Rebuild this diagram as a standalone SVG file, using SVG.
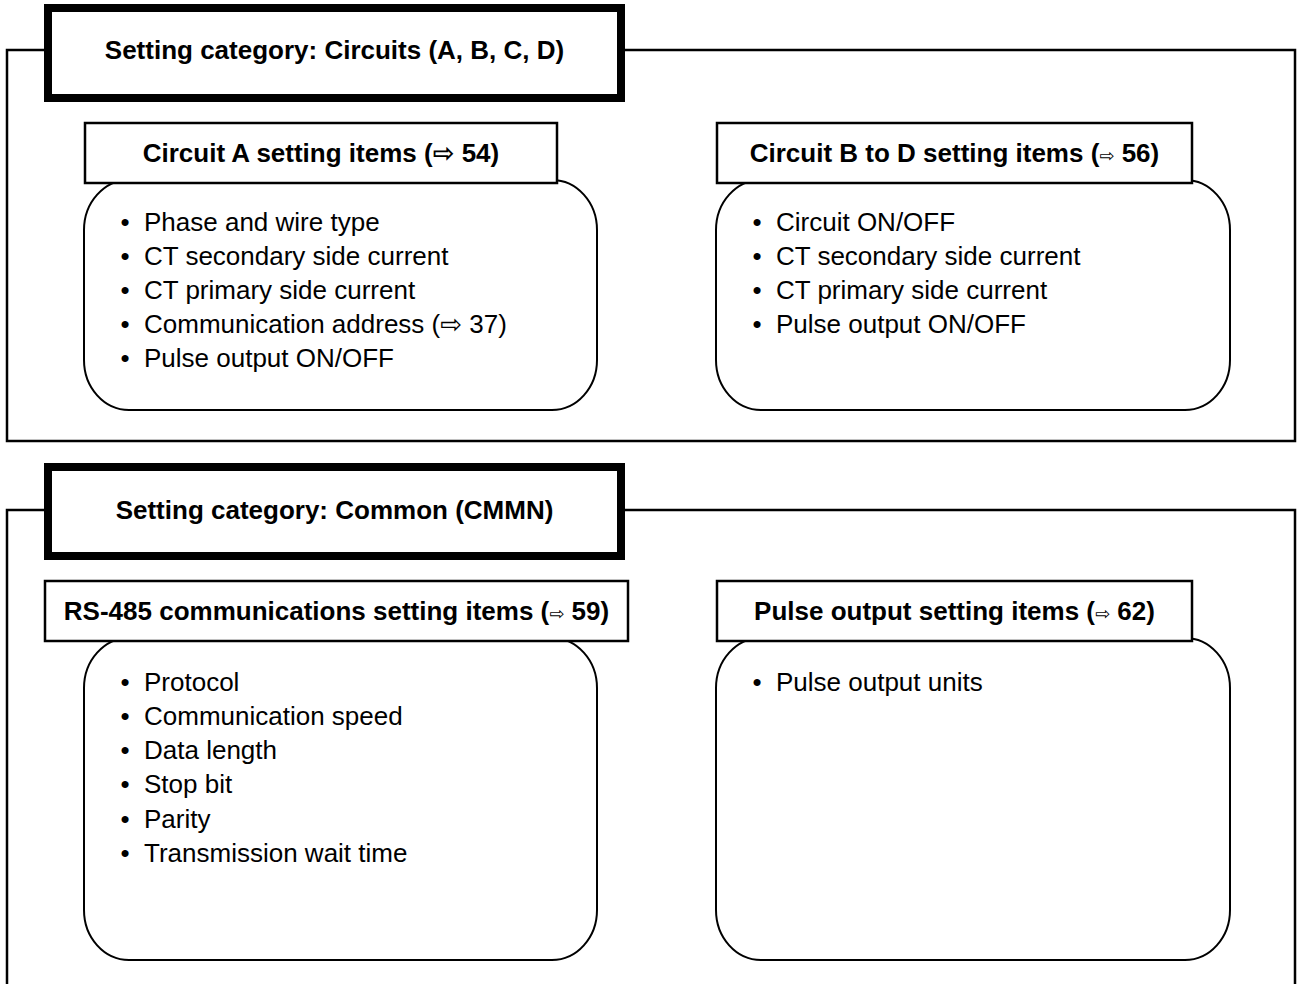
<svg xmlns="http://www.w3.org/2000/svg" width="1298" height="984" viewBox="0 0 1298 984">
<style>
.frame{fill:none;stroke:#000;stroke-width:2.5}
.cat{fill:#fff;stroke:#000;stroke-width:8}
.hdr{fill:#fff;stroke:#000;stroke-width:2.5}
.body{fill:#fff;stroke:#000;stroke-width:2}
text{font-family:"Liberation Sans","DejaVu Sans",Arial,sans-serif;font-size:26px;fill:#000}
.b{font-weight:bold}
.c{text-anchor:middle}
.arr{font-size:18px;font-weight:normal}
</style>
<rect width="1298" height="984" fill="#fff"/>
<g id="connectors">
<rect class="frame" x="7" y="50" width="1288" height="391"/>
<path class="frame" d="M7,984 V510 H1295 V984"/>
</g>
<g id="cat-circuits">
<rect class="cat" x="48" y="8" width="573" height="90"/>
<text class="b c" x="334.5" y="59">Setting category: Circuits (A, B, C, D)</text>
</g>
<g id="circuit-a">
<rect class="body" x="84" y="180" width="513" height="230" rx="45" ry="50"/>
<rect class="hdr" x="85" y="123" width="472" height="60"/>
<text class="b c" x="321" y="162">Circuit A setting items (⇨ 54)</text>
<text class="c" x="125" y="231">•</text><text x="144" y="231">Phase and wire type</text>
<text class="c" x="125" y="265">•</text><text x="144" y="265">CT secondary side current</text>
<text class="c" x="125" y="299">•</text><text x="144" y="299">CT primary side current</text>
<text class="c" x="125" y="333">•</text><text x="144" y="333">Communication address (⇨ 37)</text>
<text class="c" x="125" y="367">•</text><text x="144" y="367">Pulse output ON/OFF</text>
</g>
<g id="circuit-bd">
<rect class="body" x="716" y="180" width="514" height="230" rx="45" ry="50"/>
<rect class="hdr" x="717" y="123" width="475" height="60"/>
<text class="b c" x="954.5" y="162">Circuit B to D setting items (<tspan class="arr">⇨</tspan> 56)</text>
<text class="c" x="757" y="231">•</text><text x="776" y="231">Circuit ON/OFF</text>
<text class="c" x="757" y="265">•</text><text x="776" y="265">CT secondary side current</text>
<text class="c" x="757" y="299">•</text><text x="776" y="299">CT primary side current</text>
<text class="c" x="757" y="333">•</text><text x="776" y="333">Pulse output ON/OFF</text>
</g>
<g id="cat-common">
<rect class="cat" x="48" y="467" width="573" height="89"/>
<text class="b c" x="334.5" y="519">Setting category: Common (CMMN)</text>
</g>
<g id="rs485">
<rect class="body" x="84" y="638" width="513" height="322" rx="45" ry="50"/>
<rect class="hdr" x="45" y="581" width="583" height="60"/>
<text class="b c" x="336.5" y="620">RS-485 communications setting items (<tspan class="arr">⇨</tspan> 59)</text>
<text class="c" x="125" y="691">•</text><text x="144" y="691">Protocol</text>
<text class="c" x="125" y="725">•</text><text x="144" y="725">Communication speed</text>
<text class="c" x="125" y="759">•</text><text x="144" y="759">Data length</text>
<text class="c" x="125" y="793">•</text><text x="144" y="793">Stop bit</text>
<text class="c" x="125" y="828">•</text><text x="144" y="828">Parity</text>
<text class="c" x="125" y="862">•</text><text x="144" y="862">Transmission wait time</text>
</g>
<g id="pulse">
<rect class="body" x="716" y="638" width="514" height="322" rx="45" ry="50"/>
<rect class="hdr" x="717" y="581" width="475" height="60"/>
<text class="b c" x="954.5" y="620">Pulse output setting items (<tspan class="arr">⇨</tspan> 62)</text>
<text class="c" x="757" y="691">•</text><text x="776" y="691">Pulse output units</text>
</g>
</svg>
